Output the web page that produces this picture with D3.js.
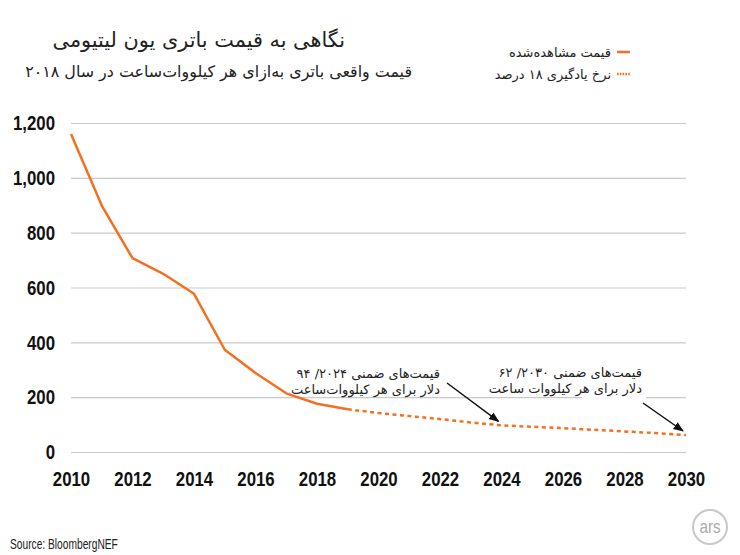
<!DOCTYPE html>
<html><head><meta charset="utf-8">
<script src="https://cdn.jsdelivr.net/npm/d3@7"></script>
<style>
html,body{margin:0;padding:0;background:#fff;}
svg{display:block;}
.fa{font-family:"DejaVu Sans",sans-serif;fill:#222;}
.num{font-family:"Liberation Sans Narrow","Liberation Sans",sans-serif;font-weight:bold;fill:#111;}
</style>
</head><body>
<svg id="c" width="740" height="555"></svg>
<script>
// ---- data ----
const obsYears = [2010, 2011, 2012, 2013, 2014, 2015, 2016, 2017, 2018, 2019];
const obsPrice = [1160, 899, 707, 650, 577, 373, 288, 214, 176, 156];
const projYears = [2019, 2020, 2021, 2022, 2023, 2024, 2025, 2026, 2027, 2028, 2029, 2030];
const projPrice = [156, 142, 131, 120, 108, 97, 92, 87, 81, 75, 69, 62];
const yTicks = [0, 200, 400, 600, 800, 1000, 1200];
const xTicks = [2010, 2012, 2014, 2016, 2018, 2020, 2022, 2024, 2026, 2028, 2030];
const title = "نگاهی به قیمت باتری یون لیتیومی";
const subtitle = "قیمت واقعی باتری به‌ازای هر کیلووات‌ساعت در سال ۲۰۱۸";
const legendLabels = ["قیمت مشاهده‌شده", "نرخ یادگیری ۱۸ درصد"];
const annotations = [
  {year: 2024, value: 97, lines: ["قیمت‌های ضمنی ۲۰۲۴/ ۹۴", "دلار برای هر کیلووات‌ساعت"]},
  {year: 2030, value: 62, lines: ["قیمت‌های ضمنی ۲۰۳۰/ ۶۲", "دلار برای هر کیلووات ساعت"]}
];
const source = "Source: BloombergNEF";

const ORANGE = "#f37021";
const RLE = "\u202B", PDF = "\u202C";
const rtl = s => RLE + s + PDF;

const svg = d3.select("#c");
const x = d3.scaleLinear().domain([2010, 2030]).range([71, 686]);
const y = d3.scaleLinear().domain([0, 1200]).range([452, 123]);

// defs
svg.append("defs").append("marker")
  .attr("id", "ah").attr("viewBox", "0 0 10 10").attr("refX", 9).attr("refY", 5)
  .attr("markerWidth", 7).attr("markerHeight", 7).attr("orient", "auto")
  .append("path").attr("d", "M0,1 L10,5 L0,9 Z").attr("fill", "#111");

// y axis + grid
const ya = svg.append("g").attr("transform", `translate(${x(2010)},0)`)
  .call(d3.axisLeft(y).tickValues(yTicks).tickSize(-(x(2030) - x(2010))).tickPadding(17)
    .tickFormat(d3.format(",")));
ya.select(".domain").remove();
ya.selectAll(".tick line").attr("stroke", "#c9c9c9").attr("stroke-width", 1.2);
ya.selectAll(".tick text").attr("class", "num").attr("font-size", 21).attr("fill", "#111")
  .attr("x", 0).attr("transform", "translate(-16,0) scale(0.8,1)");

// x axis
const xa = svg.append("g").attr("transform", `translate(0,${y(0)})`)
  .call(d3.axisBottom(x).tickValues(xTicks).tickSize(0).tickPadding(19).tickFormat(d3.format("d")));
xa.select(".domain").remove();
xa.selectAll(".tick text").attr("class", "num").attr("font-size", 21).attr("fill", "#111")
  .attr("transform", "scale(0.8,1)");

// white gap on 200 gridline (as in reference)
svg.append("rect").attr("x", 582).attr("y", y(200) - 4).attr("width", 64).attr("height", 8).attr("fill", "#fff");

// lines
const line = d3.line().x(d => x(d[0])).y(d => y(d[1]));
svg.append("path").datum(obsYears.map((d, i) => [d, obsPrice[i]]))
  .attr("d", line).attr("fill", "none").attr("stroke", ORANGE).attr("stroke-width", 2.5)
  .attr("stroke-linejoin", "round");
svg.append("path").datum(projYears.map((d, i) => [d, projPrice[i]]))
  .attr("d", line).attr("fill", "none").attr("stroke", ORANGE).attr("stroke-width", 2.5)
  .attr("stroke-dasharray", "4,3.5");

// annotations
const annPos = [{tx: 440, ty: 378, ax: 447, ay: 383}, {tx: 642, ty: 377, ax: 643, ay: 403}];
annotations.forEach((a, i) => {
  const p = annPos[i];
  const t = svg.append("text").attr("class", "fa").attr("font-size", 13).attr("text-anchor", "end");
  a.lines.forEach((l, j) => t.append("tspan").attr("x", p.tx).attr("y", p.ty + j * 16).text(rtl(l)));
  svg.append("line").attr("x1", p.ax).attr("y1", p.ay)
    .attr("x2", x(a.year) - 3).attr("y2", y(a.value) - 4)
    .attr("stroke", "#111").attr("stroke-width", 1.5).attr("marker-end", "url(#ah)");
});

// title / subtitle
svg.append("text").attr("class", "fa").attr("x", 345).attr("y", 47).attr("font-size", 20.8)
  .attr("text-anchor", "end").text(rtl(title));
svg.append("text").attr("class", "fa").attr("x", 412).attr("y", 77).attr("font-size", 15.9)
  .attr("text-anchor", "end").text(rtl(subtitle));

// legend
const lg = svg.append("g");
[52, 74].forEach((ly, i) => {
  lg.append("line").attr("x1", 617).attr("x2", 630).attr("y1", ly).attr("y2", ly)
    .attr("stroke", ORANGE).attr("stroke-width", 2.5)
    .attr("stroke-dasharray", i === 0 ? null : "1.6,1.2");
  lg.append("text").attr("class", "fa").attr("x", 611).attr("y", ly + 4.5).attr("font-size", 13)
    .attr("text-anchor", "end").text(rtl(legendLabels[i]));
});

// source
svg.append("text").attr("x", 0).attr("y", 0)
  .attr("transform", "translate(10,549) scale(0.72,1)")
  .attr("font-family", "'Liberation Sans Narrow','Liberation Sans',sans-serif")
  .attr("font-size", 14.2).attr("fill", "#222").text(source);

// ars logo
svg.append("circle").attr("cx", 710).attr("cy", 527).attr("r", 17)
  .attr("fill", "#fff").attr("stroke", "#c8c8c8").attr("stroke-width", 2);
svg.append("text").attr("x", 0).attr("y", 0).attr("text-anchor", "middle")
  .attr("transform", "translate(710,533) scale(0.85,1)")
  .attr("font-family", "'Liberation Sans Narrow','Liberation Sans',sans-serif")
  .attr("font-size", 18).attr("fill", "#aaa").text("ars");
</script>
</body></html>
